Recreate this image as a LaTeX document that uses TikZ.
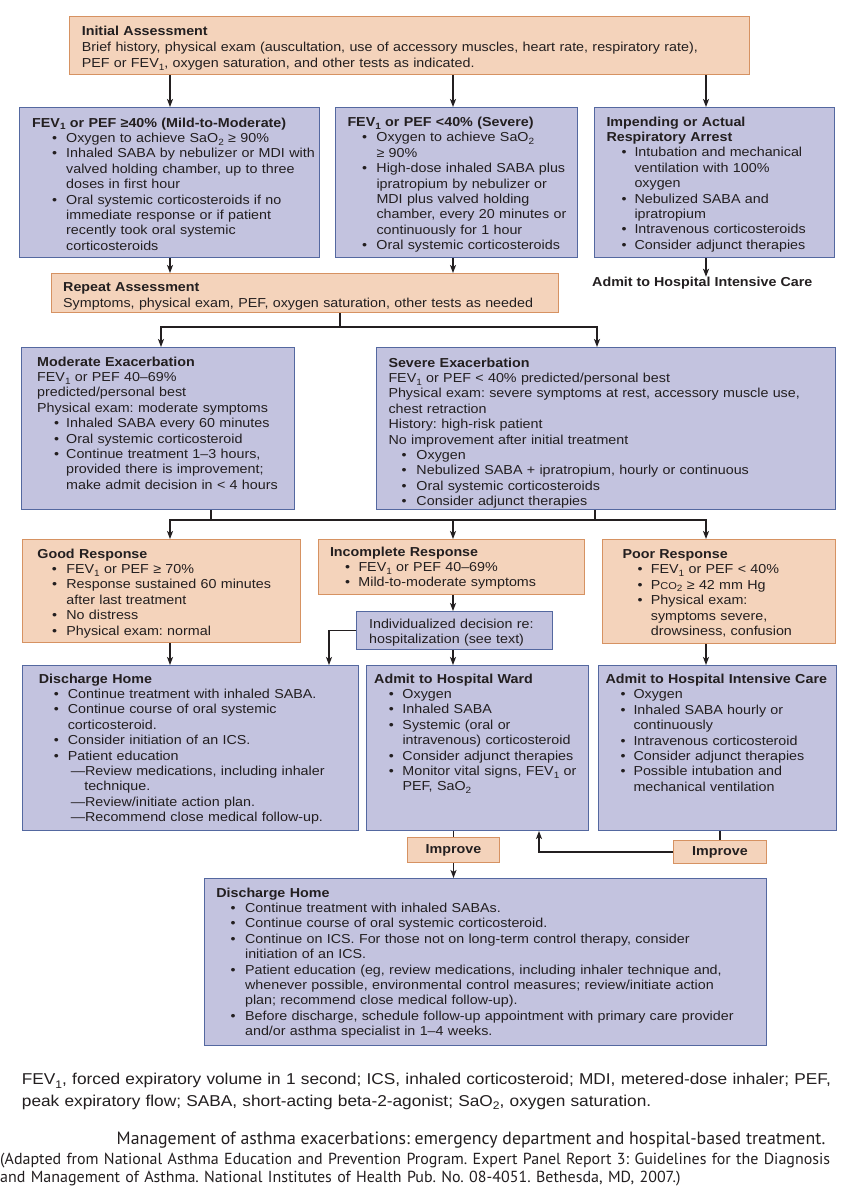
\documentclass[tikz,border=0pt]{standalone}
\usepackage{fontspec}
\setmainfont{Liberation Sans}[FakeStretch=1.1]
\newfontfamily\capfont{PT Sans}
\usepackage{tikz}
\usetikzlibrary{arrows.meta}

\definecolor{ink}{RGB}{35,31,32}
\definecolor{lavender}{RGB}{195,195,223}
\definecolor{slate}{RGB}{84,104,160}
\definecolor{peach}{RGB}{244,211,187}
\definecolor{rust}{RGB}{214,146,98}

\frenchspacing
\newlength\padx
\newlength\bulx
\newlength\txtx
\newcommand{\lft}{\leftskip=\padx\relax}
\newcommand{\hd}[1]{\lft\textbf{#1}}
\newcommand{\nl}{\newline}
\newcommand{\bul}{\par\hangindent=\txtx\hangafter=1\hspace*{\bulx}\makebox[\dimexpr\txtx-\bulx\relax][l]{\textbullet}}
\newcommand{\dsh}{\par\hangindent=45.5pt\hangafter=1\hspace*{32pt}—}
\newcommand{\lo}[1]{\raisebox{-0.2em}{\scalebox{0.7}{#1}}}
\newcommand{\bodyfont}{\fontsize{13}{15.4}\selectfont}

\begin{document}
\begin{tikzpicture}[x=1pt, y=-1pt, font=\bodyfont, text=ink,
    bluebox/.style={draw=slate, fill=lavender, line width=1pt, anchor=north west, inner xsep=0pt, inner ysep=0pt, align=left},
    peachbox/.style={draw=rust, fill=peach, line width=1pt, anchor=north west, inner xsep=0pt, inner ysep=0pt, align=left},
    dims/.style n args={3}{text width=#1, text height=#2, text depth=#3},
    ind/.style n args={3}{execute at begin node={\setlength\padx{#1}\setlength\bulx{#2}\setlength\txtx{#3}}},
    wire/.style={draw=ink, line width=1.3pt},
    arr/.style={draw=ink, line width=1.3pt, -{Stealth[length=8pt,width=6pt,inset=2pt]}}]

\fill[white] (0,0) rectangle (851,1200);
\useasboundingbox (0,0) rectangle (851,1200);

% first assessment and treatment
\node[peachbox, dims={680pt}{18.65pt}{39.35pt}, ind={12.3pt}{0pt}{0pt}, font=\fontsize{13}{16.3}\selectfont] (init) at (69,16)
  {\hd{Initial Assessment}\nl
   Brief history, physical exam (auscultation, use of accessory muscles, heart rate, respiratory rate),\nl
   PEF or FEV\lo{1}, oxygen saturation, and other tests as indicated.\par};

\node[bluebox, dims={300pt}{19.65pt}{130.35pt}, ind={12.7pt}{20pt}{34pt}] (a) at (19,107)
  {\hd{FEV\lo{1} or PEF ≥40\% (Mild-to-Moderate)}
   \bul Oxygen to achieve SaO\lo{2} ≥ 90\%
   \bul Inhaled SABA by nebulizer or MDI with\nl valved holding chamber, up to three\nl doses in first hour
   \bul Oral systemic corticosteroids if no\nl immediate response or if patient\nl recently took oral systemic\nl corticosteroids\par};
\node[bluebox, dims={242pt}{19pt}{131pt}, ind={12pt}{14.7pt}{29pt}] (b) at (335,107)
  {\hd{FEV\lo{1} or PEF <40\% (Severe)}
   \bul Oxygen to achieve SaO\lo{2}\nl ≥ 90\%
   \bul High-dose inhaled SABA plus\nl ipratropium by nebulizer or\nl MDI plus valved holding\nl chamber, every 20 minutes or\nl continuously for 1 hour
   \bul Oral systemic corticosteroids\par};
\node[bluebox, dims={240pt}{18.65pt}{131.35pt}, ind={12pt}{15pt}{28pt}] (c) at (594,107)
  {\hd{Impending or Actual\nl Respiratory Arrest}
   \bul Intubation and mechanical\nl ventilation with 100\%\nl oxygen
   \bul Nebulized SABA and\nl ipratropium
   \bul Intravenous corticosteroids
   \bul Consider adjunct therapies\par};
\node[anchor=west, inner sep=0pt, font=\bodyfont\bfseries] (icutxt) at (592,283) {Admit to Hospital Intensive Care};

\node[peachbox, dims={507pt}{18.35pt}{20.65pt}, ind={11.7pt}{0pt}{0pt}] (rep) at (51,273)
  {\hd{Repeat Assessment}\nl Symptoms, physical exam, PEF, oxygen saturation, other tests as needed\par};

% exacerbation
\node[bluebox, dims={273pt}{18.65pt}{143.35pt}, ind={15.7pt}{17pt}{29pt}] (mod) at (21,347)
  {\hd{Moderate Exacerbation}\nl
   FEV\lo{1} or PEF 40–69\%\nl
   predicted/personal best\nl
   Physical exam: moderate symptoms
   \bul Inhaled SABA every 60 minutes
   \bul Oral systemic corticosteroid
   \bul Continue treatment 1–3 hours,\nl provided there is improvement;\nl make admit decision in < 4 hours\par};
\node[bluebox, dims={459pt}{19.65pt}{142.35pt}, ind={12pt}{13pt}{28pt}] (sev) at (376,347)
  {\hd{Severe Exacerbation}\nl
   FEV\lo{1} or PEF < 40\% predicted/personal best\nl
   Physical exam: severe symptoms at rest, accessory muscle use,\nl
   chest retraction\nl
   History: high-risk patient\nl
   No improvement after initial treatment
   \bul Oxygen
   \bul Nebulized SABA + ipratropium, hourly or continuous
   \bul Oral systemic corticosteroids
   \bul Consider adjunct therapies\par};

% response
\node[peachbox, dims={278pt}{18.65pt}{84.35pt}, ind={14.9pt}{14.6pt}{29pt}] (good) at (22,539)
  {\hd{Good Response}
   \bul FEV\lo{1} or PEF ≥ 70\%
   \bul Response sustained 60 minutes\nl after last treatment
   \bul No distress
   \bul Physical exam: normal\par};
\node[peachbox, dims={266pt}{16.65pt}{38.35pt}, ind={11.5pt}{15.2pt}{28.5pt}] (inc) at (318,539)
  {\hd{Incomplete Response}
   \bul FEV\lo{1} or PEF 40–69\%
   \bul Mild-to-moderate symptoms\par};
\node[peachbox, dims={233pt}{18.9pt}{85.1pt}, ind={20pt}{15pt}{28.4pt}] (poor) at (602,539)
  {\hd{Poor Response}
   \bul FEV\lo{1} or PEF < 40\%
   \bul P{\fontsize{10}{10}\selectfont CO}\lo{2} ≥ 42 mm Hg
   \bul Physical exam:\nl symptoms severe,\nl drowsiness, confusion\par};
\node[bluebox, dims={196pt}{16.65pt}{21.35pt}, ind={12.6pt}{0pt}{0pt}] (indiv) at (356,611)
  {\lft Individualized decision re:\nl hospitalization (see text)\par};

% disposition
\node[bluebox, dims={336pt}{17.65pt}{147.35pt}, ind={16.3pt}{15pt}{29pt}] (dis1) at (22,665)
  {\hd{Discharge Home}
   \bul Continue treatment with inhaled SABA.
   \bul Continue course of oral systemic\nl corticosteroid.
   \bul Consider initiation of an ICS.
   \bul Patient education
   \dsh Review medications, including inhaler\nl technique.
   \dsh Review/initiate action plan.
   \dsh Recommend close medical follow-up.\par};
\node[bluebox, dims={222pt}{17.65pt}{147.35pt}, ind={7.7pt}{14.6pt}{28.3pt}] (ward) at (366,665)
  {\hd{Admit to Hospital Ward}
   \bul Oxygen
   \bul Inhaled SABA
   \bul Systemic (oral or\nl intravenous) corticosteroid
   \bul Consider adjunct therapies
   \bul Monitor vital signs, FEV\lo{1} or\nl PEF, SaO\lo{2}\par};
\node[bluebox, dims={238pt}{18pt}{147pt}, ind={7pt}{15pt}{28pt}] (icu) at (598,665)
  {\hd{Admit to Hospital Intensive Care}
   \bul Oxygen
   \bul Inhaled SABA hourly or\nl continuously
   \bul Intravenous corticosteroid
   \bul Consider adjunct therapies
   \bul Possible intubation and\nl mechanical ventilation\par};

\node[peachbox, minimum width=92pt, minimum height=25pt, align=center, font=\bodyfont\bfseries] (imp1) at (407,837) {Improve};
\node[peachbox, minimum width=93pt, minimum height=23pt, align=center, font=\bodyfont\bfseries] (imp2) at (673,840) {Improve};

\node[bluebox, dims={562pt}{18.65pt}{148.35pt}, ind={11.8pt}{14.2pt}{28.8pt}] (dis2) at (204,878)
  {\hd{Discharge Home}
   \bul Continue treatment with inhaled SABAs.
   \bul Continue course of oral systemic corticosteroid.
   \bul Continue on ICS. For those not on long-term control therapy, consider\nl initiation of an ICS.
   \bul Patient education (eg, review medications, including inhaler technique and,\nl whenever possible, environmental control measures; review/initiate action\nl plan; recommend close medical follow-up).
   \bul Before discharge, schedule follow-up appointment with primary care provider\nl and/or asthma specialist in 1–4 weeks.\par};

% footnote and caption
\node[anchor=base west, inner sep=0pt, text width=829pt, align=left, font=\fontsize{15.7}{21.7}\selectfont] (foot) at (21.7,1084.9)
  {FEV\lo{1}, forced expiratory volume in 1 second; ICS, inhaled corticosteroid; MDI, metered-dose inhaler; PEF,\\
   peak expiratory flow; SABA, short-acting beta-2-agonist; SaO\lo{2}, oxygen saturation.};
\node[anchor=base west, inner sep=0pt, font=\capfont\fontsize{17.8}{18.4}\selectfont] (title) at (116.5,1144.3)
  {Management of asthma exacerbations: emergency department and hospital-based treatment.};
\node[anchor=base west, inner sep=0pt, text width=851pt, align=left, font=\capfont\fontsize{16}{18.4}\selectfont] (source) at (0,1164.3)
  {(Adapted from National Asthma Education and Prevention Program. Expert Panel Report 3: Guidelines for the Diagnosis\\
   and Management of Asthma. National Institutes of Health Pub. No. 08-4051. Bethesda, MD, 2007.)};

% connectors
\coordinate (colL) at (170,0);
\coordinate (colM) at (453,0);
\coordinate (colR) at (706,0);
\coordinate (colD) at (329,0);
\coordinate (colW) at (539,0);
\coordinate (j1) at (340,327);
\coordinate (j1L) at (161,327);
\coordinate (j1R) at (597,327);
\coordinate (j2M) at (211,520);
\coordinate (j2S) at (595,520);

\draw[arr] (init.south -| colL) -- (a.north -| colL);
\draw[arr] (init.south -| colM) -- (b.north -| colM);
\draw[arr] (init.south -| colR) -- (c.north -| colR);
\draw[arr] (a.south -| colL) -- (rep.north -| colL);
\draw[arr] (b.south -| colM) -- (rep.north -| colM);
\draw[arr] (c.south -| colR) -- (icutxt.north -| colR);

\draw[arr] (rep.south -| j1) -- (j1) -| (mod.north -| j1L);
\draw[arr] (j1) -| (sev.north -| j1R);

\draw[arr] (mod.south -| j2M) |- (colL |- j2M) -- (good.north -| colL);
\draw[arr] (sev.south -| j2S) |- (colR |- j2M) -- (poor.north -| colR);
\draw[wire] (j2M) -- (j2S);
\draw[arr] (colM |- j2M) -- (inc.north -| colM);

\draw[arr] (good.south -| colL) -- (dis1.north -| colL);
\draw[arr] (inc.south -| colM) -- (indiv.north -| colM);
\draw[arr] (indiv.south -| colM) -- (ward.north -| colM);
\draw[arr] (indiv.west) -| (dis1.north -| colD);
\draw[arr] (poor.south -| colR) -- (icu.north -| colR);

\draw[wire] (ward.south -| imp1.north) -- (imp1.north);
\draw[arr] (imp1.south) -- (dis2.north -| imp1.south);
\draw[wire] (icu.south -| imp2.north) -- (imp2.north);
\draw[arr] (imp2.west) -| (ward.south -| colW);
\end{tikzpicture}
\end{document}
